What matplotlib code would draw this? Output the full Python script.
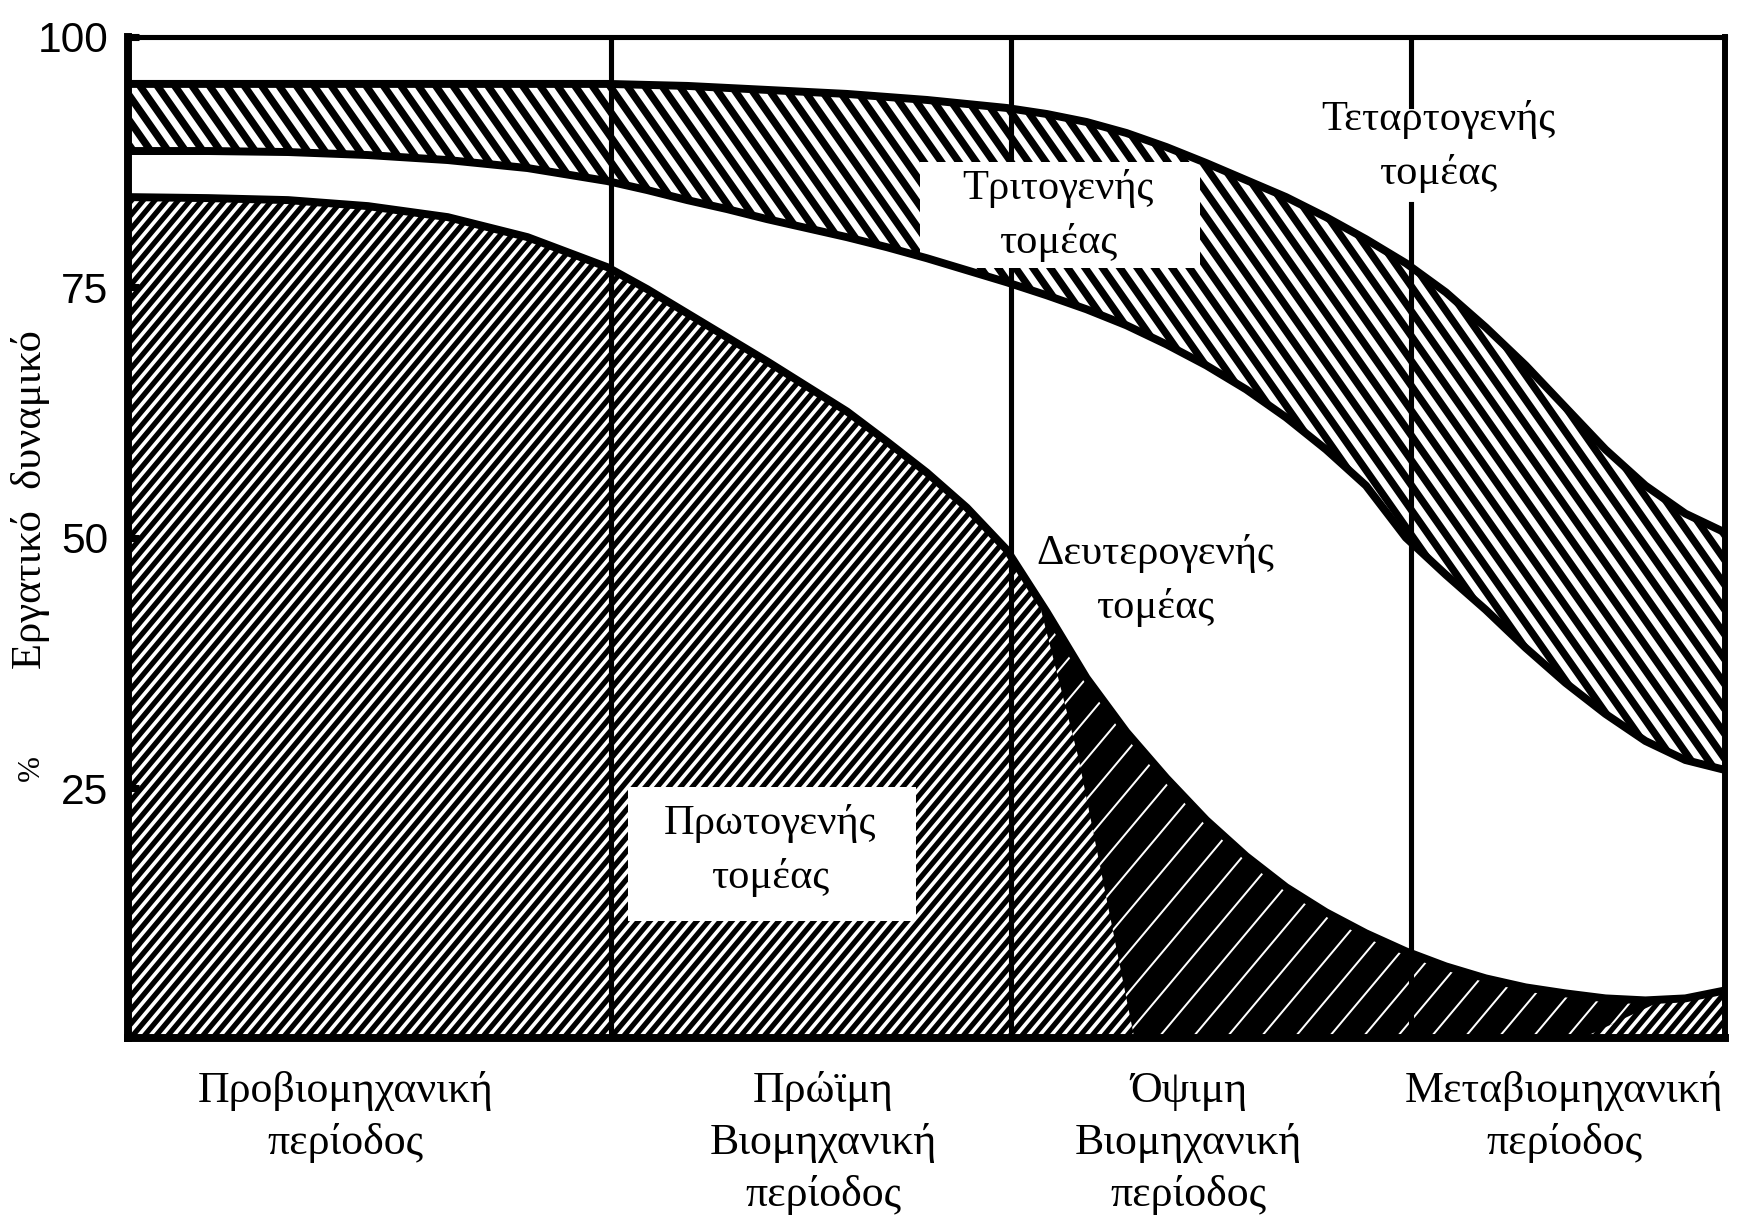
import numpy as np
import matplotlib.pyplot as plt
from matplotlib.patches import Rectangle, Polygon
from matplotlib.collections import LineCollection
import matplotlib.transforms as mtransforms


# period axis runs 0..100 (left frame to right frame), y is % of the labour force
x = [0, 5, 10, 15, 20, 25, 30, 32.5, 35, 37.5, 40, 42.5, 45, 47.5, 50, 52.5, 55,
     57.5, 60, 62.5, 65, 67.5, 70, 72.5, 75, 77.5, 80, 82.5, 85, 87.5, 90, 92.5,
     95, 97.5, 100]

primary = [84.0, 83.9, 83.7, 83.1, 82.0, 80.0, 77.0, 74.8, 72.4, 70.0, 67.6, 65.1,
           62.6, 59.6, 56.5, 53.0, 48.8, 42.6, 36.0, 30.6, 26.0, 21.8, 18.2, 15.1,
           12.6, 10.5, 8.7, 7.2, 6.0, 5.1, 4.5, 4.0, 3.8, 4.0, 4.8]

tertiary_low = [88.6, 88.6, 88.5, 88.2, 87.7, 86.9, 85.6, 84.7, 83.7, 82.8, 81.8,
                80.9, 80.0, 79.0, 77.9, 76.7, 75.5, 74.2, 72.8, 71.2, 69.3, 67.2,
                64.8, 62.0, 58.8, 55.2, 50.0, 46.3, 42.8, 39.0, 35.5, 32.4, 29.7,
                27.8, 26.8]

tertiary_high = [95.3, 95.3, 95.3, 95.3, 95.3, 95.3, 95.3, 95.2, 95.1, 94.9, 94.7,
                 94.5, 94.3, 94.0, 93.7, 93.3, 92.9, 92.3, 91.5, 90.4, 89.0, 87.4,
                 85.7, 84.0, 82.0, 79.8, 77.4, 74.5, 71.0, 67.2, 63.0, 58.8, 55.2,
                 52.4, 50.5]

period_edges = [30.2, 55.3, 80.3]
period_centres = [13.6, 43.5, 66.4, 89.9]
period_labels = ["Προβιομηχανική\nπερίοδος",
                 "Πρώϊμη\nΒιομηχανική\nπερίοδος",
                 "Όψιμη\nΒιομηχανική\nπερίοδος",
                 "Μεταβιομηχανική\nπερίοδος"]

yticks = [25, 50, 75, 100]

SERIF = ["Liberation Serif", "DejaVu Serif"]
DPI = 204
AX_RECT = [0.0733, 0.146, 0.912, 0.8237]

fig = plt.figure(figsize=(1751 / DPI, 1216 / DPI), dpi=DPI)
ax = fig.add_axes(AX_RECT)
ax.set_xlim(0, 100)
ax.set_ylim(0, 100)

# pixels per data unit, needed to keep the hatch angle right on screen
SX = AX_RECT[2] * 1751 / 100.0
SY = AX_RECT[3] * 1216 / 100.0


def hatch_lines(clip, angle, spacing, lw, color="black", z=1.2):
	"""
	draws parallel lines at angle (degrees, on screen) every spacing pixels
	(measured along x) and clips them to the given path/patch
	"""
	slope = np.tan(np.radians(angle)) * SX / SY
	step = spacing / SX
	c0 = min(0, -100 / slope) - step
	c1 = max(100, 100 - 100 / slope) + step
	segs = [[(c, 0), (c + 100 / slope, 100)] for c in np.arange(c0, c1, step)]
	lc = LineCollection(segs, colors=color, linewidths=lw, zorder=z,
	                    capstyle="butt")
	ax.add_collection(lc)
	if isinstance(clip, Polygon):
		lc.set_clip_path(clip)
	else:
		lc.set_clip_path(clip.get_paths()[0], ax.transData)
	return lc


# tertiary band and primary area
band = ax.fill_between(x, tertiary_low, tertiary_high, facecolor="white",
                       linewidth=0, zorder=1)
hatch_lines(band, -55, 17.4, 2.6)
prim = ax.fill_between(x, 0, primary, facecolor="white", linewidth=0, zorder=1)
hatch_lines(prim, 50, 11.7, 1.85)

# the part of the primary area that came out almost solid black in the print
dark_zone = Polygon([(56, 50), (59.5, 28), (63, 0), (91, 0), (97, 4.5), (97, 15),
                     (70, 25)], closed=True, transform=ax.transData,
                    facecolor="none", edgecolor="none")
ax.add_patch(dark_zone)
dark = ax.fill_between(x, 0, primary, facecolor="black", linewidth=0, zorder=1.5)
dark.set_clip_path(dark_zone)
hatch_lines(dark_zone, 50, 34, 0.7, color="white", z=1.6)

# period dividers; the last one breaks behind the quaternary label
ax.axvline(period_edges[0], color="black", lw=1.8, zorder=2)
ax.axvline(period_edges[1], color="black", lw=1.8, zorder=2)
ax.axvline(period_edges[2], ymax=0.833, color="black", lw=1.8, zorder=2)
ax.axvline(period_edges[2], ymin=0.931, color="black", lw=1.8, zorder=2)

# white label boxes cut out of the hatching
ax.add_patch(Rectangle((49.6, 76.9), 17.5, 10.6, facecolor="white",
                       edgecolor="none", zorder=3))
ax.add_patch(Rectangle((31.3, 11.7), 18.0, 13.4, facecolor="white",
                       edgecolor="none", zorder=3))

for curve in (primary, tertiary_low, tertiary_high):
	ax.plot(x, curve, color="black", lw=2.8, zorder=4, solid_joinstyle="round")

lab = dict(ha="center", va="center", fontsize=15, family=SERIF,
           linespacing=1.5, zorder=5)
ax.text(58.2, 82.2, "Τριτογενής\nτομέας", **lab)
ax.text(40.2, 18.8, "Πρωτογενής\nτομέας", **lab)
ax.text(64.3, 45.7, "Δευτερογενής\nτομέας", **lab)
ax.text(82.0, 89.1, "Τεταρτογενής\nτομέας", **lab)

# period names under the frame
trans = mtransforms.blended_transform_factory(ax.transData, ax.transAxes)
for xc, name in zip(period_centres, period_labels):
	ax.text(xc, -0.032, name, transform=trans, ha="center", va="top",
	        fontsize=15.5, family=SERIF, linespacing=1.4)

# y axis title, split like the print
ytrans = mtransforms.blended_transform_factory(ax.transAxes, ax.transData)
ax.text(-0.061, 53.8, "Εργατικό  δυναμικό", transform=ytrans, rotation=90,
        ha="center", va="center", fontsize=15, family=SERIF)
ax.text(-0.061, 27.0, "%", transform=ytrans, rotation=90,
        ha="center", va="center", fontsize=11, family=SERIF)

ax.set_xticks([])
ax.set_yticks(yticks)
ax.set_yticklabels([str(t) for t in yticks],
                   family=["Liberation Sans Narrow", "Liberation Sans", "DejaVu Sans"],
                   fontsize=15)
ax.tick_params(axis="y", direction="in", length=4, width=2.5, pad=7)

for side, lw in (("left", 2.8), ("bottom", 2.8), ("top", 1.8), ("right", 2.1)):
	ax.spines[side].set_linewidth(lw)
	ax.spines[side].set_zorder(6)

fig.savefig("out.png", dpi=DPI, facecolor="white")
